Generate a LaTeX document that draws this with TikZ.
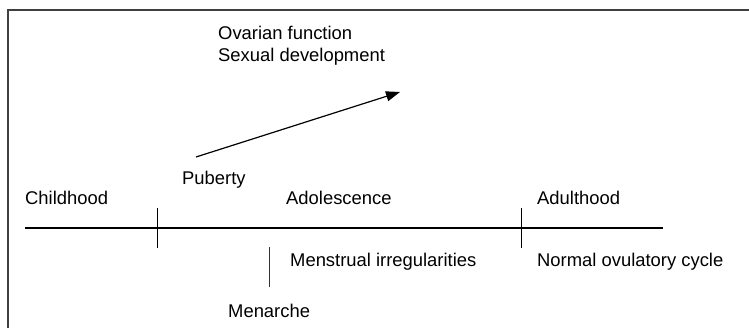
\documentclass[tikz,border=0pt]{standalone}
\usepackage{fontspec}
\setmainfont{Liberation Sans}
\usetikzlibrary{arrows.meta}

\begin{document}
\begin{tikzpicture}[x=1pt,y=-1pt,
  lbl/.style={anchor=base west,inner sep=0pt,font=\fontsize{18.4}{22}\selectfont}]
\useasboundingbox (0,0) rectangle (749,328);
\def\ty{228};
\def\tu{208};
\def\td{248};
% frame, open at right and bottom%
\draw[line width=1.5pt,black!75] (8,328) -- (8,10) -- (749,10);
% timeline%
\coordinate (L) at (25,\ty);
\coordinate (R) at (663,\ty);
\draw[line width=2pt] (L) -- (R);
\coordinate (P1) at (157,\tu);
\coordinate (P2) at (157,\td);
\coordinate (A1) at (521,\tu);
\coordinate (A2) at (521,\td);
\coordinate (M1) at (269,247);
\coordinate (M2) at (269,287);
\draw[line width=1pt] (P1) -- (P2); %puberty%
\draw[line width=1pt] (A1) -- (A2); %adulthood%
\draw[line width=1pt,black!80] (M1) -- (M2); %menarche%
% labels%
\node[lbl] (ovar) at (218,40) {Ovarian function};
\node[lbl] (sexdev) at (218,62) {Sexual development};
\node[lbl] (pub) at (182,185) {Puberty};
\node[lbl] (child) at (25,205) {Childhood};
\node[lbl] (adol) at (286,205) {Adolescence};
\node[lbl] (adult) at (537,205) {Adulthood};
\node[lbl] (irreg) at (290,267) {Menstrual irregularities};
\node[lbl] (ovul) at (537,267) {Normal ovulatory cycle};
\node[lbl] (men) at (228,317) {Menarche};
% development arrow%
\coordinate (S) at (196,157);
\coordinate (E) at (400,92);
\draw[-{Triangle[length=14pt,width=10pt]},line width=1.2pt] (S) -- (E);
\end{tikzpicture}
\end{document}
